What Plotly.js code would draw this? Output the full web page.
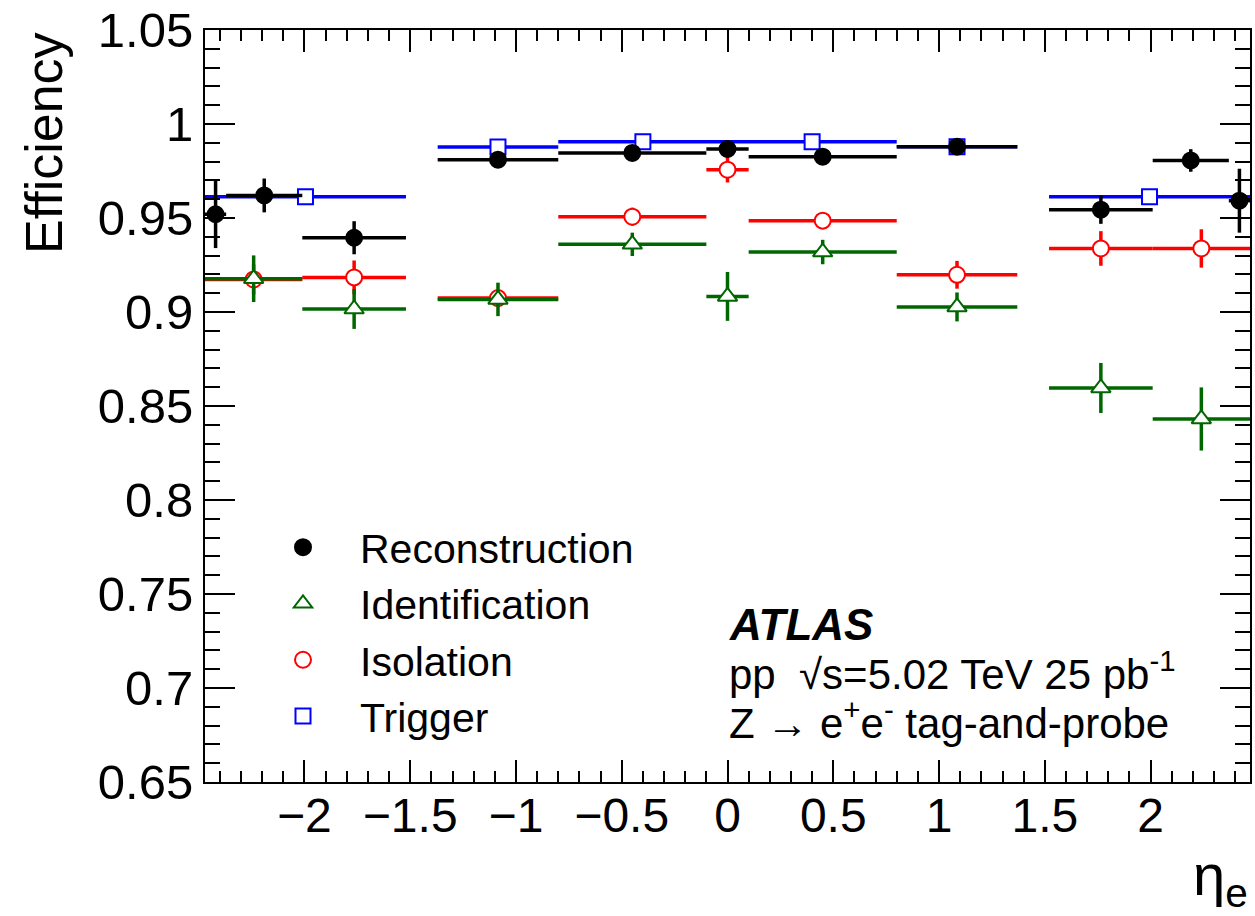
<!DOCTYPE html>
<html>
<head>
<meta charset="utf-8">
<script src="https://cdn.plot.ly/plotly-3.0.1.min.js"></script>
<style>html,body{margin:0;padding:0;background:#fff;}#chart{width:1255px;height:916px;}</style>
</head>
<body>
<div id="chart"></div>
<script>
// Reconstruction
var recoLow  = [-2.47, -2.37, -2.01, -1.37, -0.8, -0.1, 0.1, 0.8, 1.52, 2.01, 2.37];
var recoHigh = [-2.37, -2.01, -1.52, -0.8, -0.1, 0.1, 0.8, 1.37, 2.01, 2.37, 2.47];
var recoEff  = [0.952, 0.962, 0.9395, 0.981, 0.9846, 0.9867, 0.9826, 0.9879, 0.9544, 0.9806, 0.9592];
var recoErr  = [0.018, 0.009, 0.0088, 0.0015, 0.0015, 0.0015, 0.0015, 0.0015, 0.0075, 0.006, 0.017];

// Identification
var idLow  = [-2.47, -2.01, -1.37, -0.8, -0.1, 0.1, 0.8, 1.52, 2.01];
var idHigh = [-2.01, -1.52, -0.8, -0.1, 0.1, 0.8, 1.37, 2.01, 2.47];
var idEff  = [0.9177, 0.9016, 0.9067, 0.936, 0.9083, 0.9319, 0.9027, 0.8596, 0.8431];
var idErr  = [0.0124, 0.0106, 0.0089, 0.0062, 0.013, 0.0065, 0.0077, 0.0133, 0.0168];

// Isolation
var isoLow  = [-2.47, -2.01, -1.37, -0.8, -0.1, 0.1, 0.8, 1.52, 2.01];
var isoHigh = [-2.01, -1.52, -0.8, -0.1, 0.1, 0.8, 1.37, 2.01, 2.47];
var isoEff  = [0.9173, 0.9184, 0.9074, 0.9507, 0.9757, 0.9486, 0.9198, 0.9338, 0.9338];
var isoErr  = [0.008, 0.009, 0.004, 0.0048, 0.0068, 0.0045, 0.0074, 0.0092, 0.0102];

// Trigger
var trigLow  = [-2.47, -1.37, -0.8, 0.0, 0.8, 1.52];
var trigHigh = [-1.52, -0.8, 0.0, 0.8, 1.37, 2.47];
var trigEff  = [0.9613, 0.9878, 0.9906, 0.9906, 0.9879, 0.9613];
var trigErr  = [0.001, 0.001, 0.001, 0.001, 0.001, 0.001];

var seriesNames = ["Reconstruction", "Identification", "Isolation", "Trigger"];
var yTitle = "Efficiency";
var xTitle = "η<sub>e</sub>";

var FONT = "Liberation Sans, Arial, Helvetica, sans-serif";

function centers(lo, hi) { return lo.map(function (v, i) { return (v + hi[i]) / 2; }); }
function halfw(lo, hi) { return lo.map(function (v, i) { return (hi[i] - v) / 2; }); }

function mk(name, lo, hi, eff, err, color, symbol, fill, size, rank) {
  return {
    type: "scatter", mode: "markers", name: name,
    x: centers(lo, hi), y: eff,
    legendrank: rank, legendgroup: name,
    error_x: {type: "data", array: halfw(lo, hi), symmetric: true, color: color, thickness: 3.5, width: 0},
    error_y: {type: "data", array: err, symmetric: true, color: color, thickness: 3.5, width: 0},
    marker: {symbol: symbol, size: size, color: fill, line: {color: color, width: 2}},
    hoverinfo: "x+y"
  };
}

var traces = [
  mk(seriesNames[3], trigLow, trigHigh, trigEff, trigErr, "#0000ff", "square", "#ffffff", 15, 4),
  mk(seriesNames[2], isoLow, isoHigh, isoEff, isoErr, "#ff0000", "circle", "#ffffff", 16, 3),
  mk(seriesNames[1], idLow, idHigh, idEff, idErr, "#006600", "triangle-up", "#ffffff", 17, 2),
  mk(seriesNames[0], recoLow, recoHigh, recoEff, recoErr, "#000000", "circle", "#000000", 16, 1)
];

var plotL = 205, plotR = 1250, plotT = 30, plotB = 782;
function px(x) { return (x - plotL) / (plotR - plotL); }
function py(y) { return (plotB - y) / (plotB - plotT); }

var layout = {
  width: 1255, height: 916,
  margin: {l: plotL, r: 1255 - plotR, t: plotT, b: 916 - plotB, pad: 0},
  paper_bgcolor: "#ffffff", plot_bgcolor: "#ffffff",
  font: {family: FONT, color: "#000000"},
  showlegend: true,
  legend: {
    x: px(246), y: py(514), xanchor: "left", yanchor: "top",
    bgcolor: "rgba(0,0,0,0)", borderwidth: 0,
    font: {family: FONT, size: 41, color: "#000000"},
    itemwidth: 104, tracegroupgap: 0, itemsizing: "trace"
  },
  xaxis: {
    range: [-2.47, 2.47], tick0: 0, dtick: 0.5,
    showline: true, linecolor: "#000000", linewidth: 2, mirror: "ticks",
    ticks: "inside", ticklen: 22, tickwidth: 2, tickcolor: "#000000",
    minor: {dtick: 0.1, ticks: "inside", ticklen: 11, tickwidth: 2, tickcolor: "#000000", showgrid: false},
    showgrid: false, zeroline: false,
    tickfont: {family: FONT, size: 48, color: "#000000"},
    ticklabelstandoff: -10
  },
  yaxis: {
    range: [0.65, 1.05], tick0: 0, dtick: 0.05,
    showline: true, linecolor: "#000000", linewidth: 2, mirror: "ticks",
    ticks: "inside", ticklen: 30, tickwidth: 2, tickcolor: "#000000",
    minor: {dtick: 0.01, ticks: "inside", ticklen: 15, tickwidth: 2, tickcolor: "#000000", showgrid: false},
    showgrid: false, zeroline: false,
    tickfont: {family: FONT, size: 49, color: "#000000"},
    ticklabelstandoff: 0
  },
  annotations: [
    {text: yTitle, xref: "paper", yref: "paper", x: px(44), y: 1, xanchor: "center", yanchor: "top",
     textangle: -90, showarrow: false, font: {family: FONT, size: 52, color: "#000000"}},
    {text: xTitle, xref: "paper", yref: "paper", x: 1, y: py(918), xanchor: "right", yanchor: "bottom",
     showarrow: false, font: {family: FONT, size: 58, color: "#000000"}},
    {text: "<b><i>ATLAS</i></b>", xref: "paper", yref: "paper", x: px(727), y: py(624), xanchor: "left", yanchor: "middle",
     showarrow: false, font: {family: FONT, size: 44, color: "#000000"}},
    {text: "pp  √s=5.02 TeV 25 pb<sup>-1</sup>", xref: "paper", yref: "paper", x: px(727), y: py(671), xanchor: "left", yanchor: "middle",
     showarrow: false, font: {family: FONT, size: 42, color: "#000000"}},
    {text: "Z → e<sup>+</sup>e<sup>-</sup> tag-and-probe", xref: "paper", yref: "paper", x: px(727), y: py(720), xanchor: "left", yanchor: "middle",
     showarrow: false, font: {family: FONT, size: 42, color: "#000000"}}
  ]
};

Plotly.newPlot("chart", traces, layout, {displayModeBar: false, staticPlot: true});
</script>
</body>
</html>
